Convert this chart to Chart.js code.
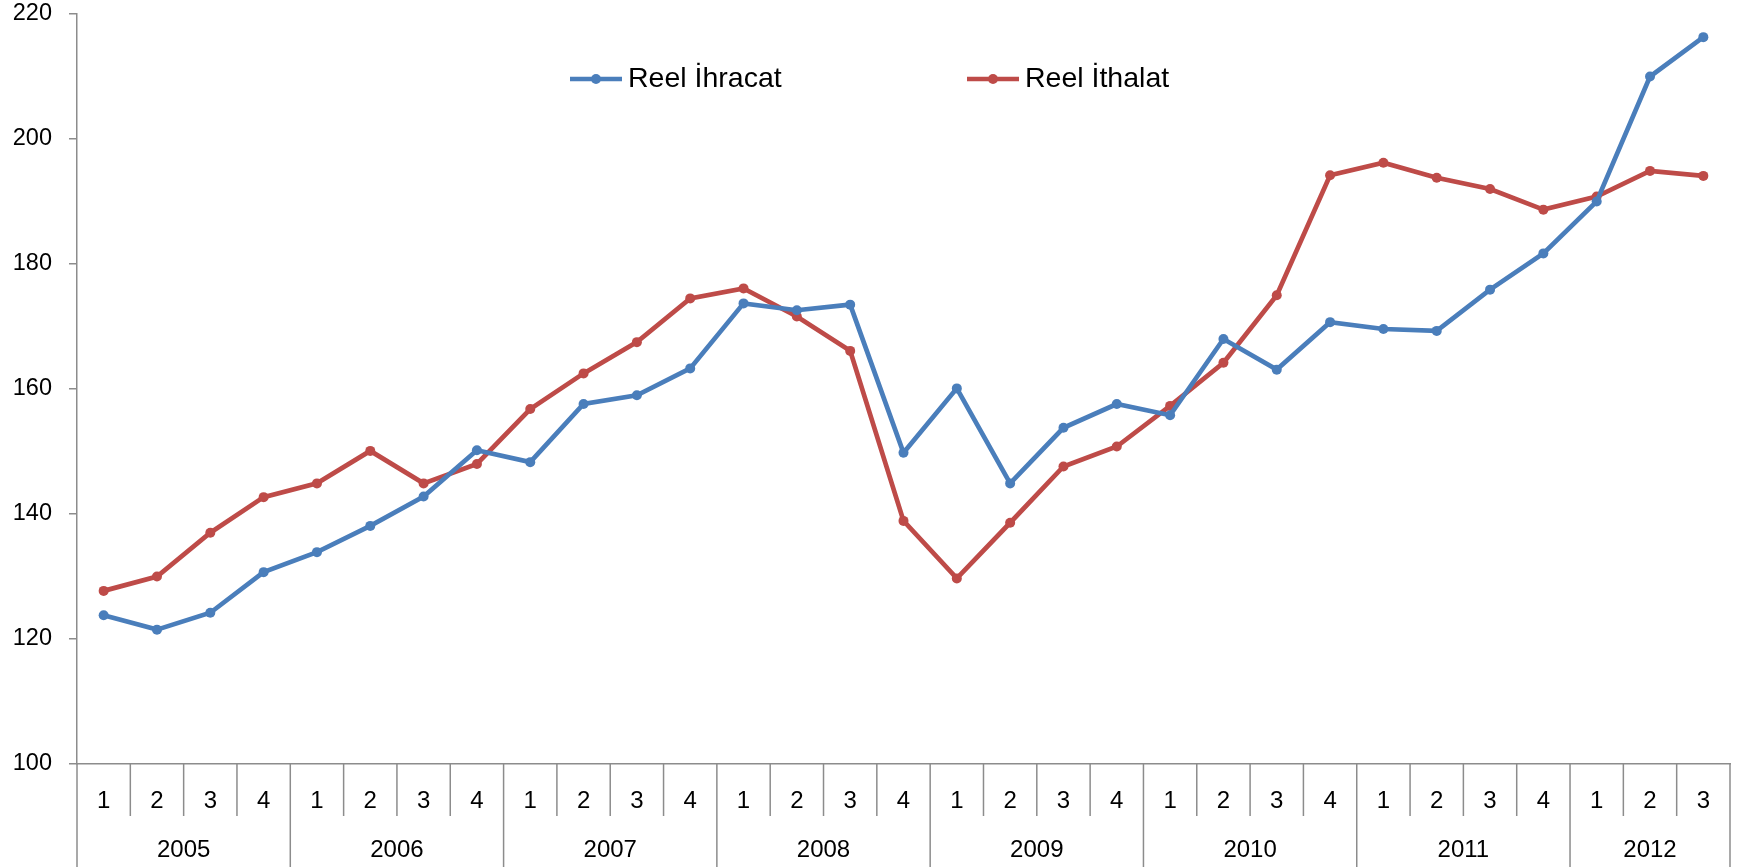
<!DOCTYPE html>
<html>
<head>
<meta charset="utf-8">
<script src="https://cdn.jsdelivr.net/npm/chart.js@4/dist/chart.umd.min.js"></script>
<style>
  html, body { margin: 0; padding: 0; background: #fff; }
  #wrap { width: 1741px; height: 867px; position: relative; }
</style>
</head>
<body>
<div id="wrap"><canvas id="c" width="1741" height="867"></canvas></div>
<script>
// ---- data ----
const years = ['2005', '2006', '2007', '2008', '2009', '2010', '2011', '2012'];
const quartersPerYear = [4, 4, 4, 4, 4, 4, 4, 3];
const quarterLabels = [
  '1','2','3','4', '1','2','3','4', '1','2','3','4', '1','2','3','4',
  '1','2','3','4', '1','2','3','4', '1','2','3','4', '1','2','3'
];
const reelIhracat = [
  123.8, 121.5, 124.2, 130.7,
  133.9, 138.1, 142.8, 150.2,
  148.3, 157.6, 159.0, 163.3,
  173.7, 172.6, 173.5, 149.8,
  160.1, 144.9, 153.8, 157.6,
  155.8, 168.0, 163.1, 170.7,
  169.6, 169.3, 175.9, 181.7,
  190.0, 210.0, 216.3
];
const reelIthalat = [
  127.7, 130.0, 137.0, 142.7,
  144.9, 150.1, 144.9, 148.0,
  156.8, 162.5, 167.5, 174.5,
  176.1, 171.6, 166.1, 138.9,
  129.7, 138.6, 147.6, 150.8,
  157.3, 164.2, 175.0, 194.2,
  196.2, 193.8, 192.0, 188.7,
  190.8, 194.9, 194.1
];
const seriesNames = ['Reel İhracat', 'Reel İthalat'];
const yTicks = { min: 100, max: 220, step: 20 };

// ---- styles ----
const FONT = "'Liberation Sans', Arial, sans-serif";
const BLUE = '#4A7EBB';
const RED = '#BE4B48';
const AXIS = '#8c8c8c';

const multiLevelAxis = {
  id: 'multiLevelAxis',
  afterDraw(chart) {
    const ctx = chart.ctx;
    const x = chart.scales.x;
    const area = chart.chartArea;
    const n = quarterLabels.length;
    const half = (x.getPixelForValue(1) - x.getPixelForValue(0)) / 2;
    const yAxis = area.bottom;
    const qBottom = yAxis + 52;
    const bottom = chart.height;
    ctx.save();
    ctx.strokeStyle = AXIS;
    ctx.lineWidth = 1.5;
    const yearStart = new Set();
    let acc = 0;
    yearStart.add(0);
    quartersPerYear.forEach(q => { acc += q; yearStart.add(acc); });
    for (let i = 0; i <= n; i++) {
      const px = x.getPixelForValue(i) - half;
      ctx.beginPath();
      ctx.moveTo(px, yAxis);
      ctx.lineTo(px, yearStart.has(i) ? bottom : qBottom);
      ctx.stroke();
    }
    ctx.fillStyle = '#000';
    ctx.font = '24px ' + FONT;
    ctx.textAlign = 'center';
    ctx.textBaseline = 'middle';
    let start = 0;
    years.forEach((yr, k) => {
      const end = start + quartersPerYear[k];
      const l = x.getPixelForValue(start) - half;
      const r = x.getPixelForValue(end - 1) + half;
      ctx.fillText(yr, (l + r) / 2, yAxis + 86);
      start = end;
    });
    // legend
    const ds = chart.data.datasets;
    const items = [{ x0: 570, ds: ds[0] }, { x0: 967, ds: ds[1] }];
    const ly = 79;
    items.forEach(it => {
      ctx.strokeStyle = it.ds.borderColor;
      ctx.lineWidth = 4.5;
      ctx.beginPath();
      ctx.moveTo(it.x0, ly);
      ctx.lineTo(it.x0 + 52, ly);
      ctx.stroke();
      ctx.fillStyle = it.ds.borderColor;
      ctx.beginPath();
      ctx.arc(it.x0 + 26, ly, 5, 0, Math.PI * 2);
      ctx.fill();
      ctx.fillStyle = '#000';
      ctx.textAlign = 'left';
      ctx.textBaseline = 'middle';
      ctx.font = '28.5px ' + FONT;
      ctx.fillText(it.ds.label, it.x0 + 58, ly);
    });
    ctx.restore();
  }
};

new Chart(document.getElementById('c'), {
  type: 'line',
  data: {
    labels: quarterLabels,
    datasets: [
      {
        label: seriesNames[0], data: reelIhracat,
        borderColor: BLUE, backgroundColor: BLUE,
        borderWidth: 4.7, pointRadius: 5, pointBackgroundColor: BLUE,
        pointBorderWidth: 0, tension: 0
      },
      {
        label: seriesNames[1], data: reelIthalat,
        borderColor: RED, backgroundColor: RED,
        borderWidth: 4.7, pointRadius: 5, pointBackgroundColor: RED,
        pointBorderWidth: 0, tension: 0
      }
    ]
  },
  options: {
    responsive: false,
    animation: false,
    layout: { padding: { top: 14, right: 11, left: 0, bottom: 0 } },
    plugins: { legend: { display: false }, tooltip: { enabled: false } },
    scales: {
      x: {
        type: 'category',
        offset: true,
        grid: { display: false, drawTicks: false },
        border: { display: true, color: AXIS, width: 1.5 },
        ticks: {
          color: '#000', font: { family: FONT, size: 24 },
          maxRotation: 0, autoSkip: false, padding: 23
        },
        afterFit: s => { s.height = 103; s.paddingLeft = 0; s.paddingRight = 0; }
      },
      y: {
        min: yTicks.min, max: yTicks.max,
        grid: { drawOnChartArea: false, drawTicks: true, tickLength: 8, color: AXIS, lineWidth: 1.5 },
        border: { display: true, color: AXIS, width: 1.5 },
        ticks: {
          stepSize: yTicks.step, color: '#000',
          font: { family: FONT, size: 23.5 }, padding: 17
        },
        afterFit: s => { s.width = 77; s.paddingTop = 0; s.paddingBottom = 0; }
      }
    }
  },
  plugins: [multiLevelAxis]
});
</script>
</body>
</html>
